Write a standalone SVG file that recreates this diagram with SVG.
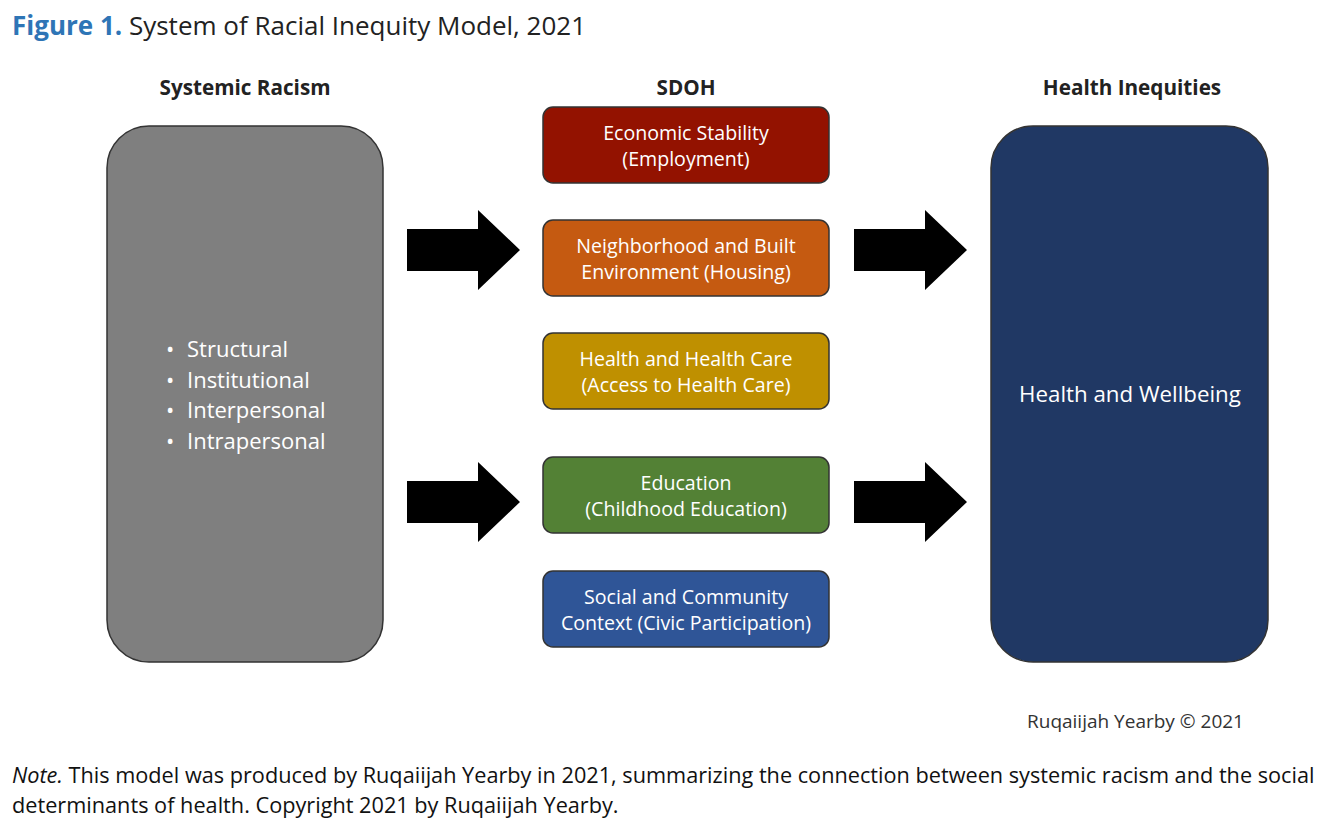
<svg xmlns="http://www.w3.org/2000/svg" width="1333" height="832" viewBox="0 0 1333 832">
<style>
text{font-family:"Open Sans",Lato,"Liberation Sans",sans-serif}
.h{font-size:20.7px;font-weight:bold;fill:#222;text-anchor:middle}
.s{font-size:19.6px;fill:#fff;text-anchor:middle}
.b{stroke:#333;stroke-width:1.5}
.arr{fill:#000}
</style>
<rect width="1333" height="832" fill="#fff"/>
<text x="12" y="35" font-size="26" fill="#222"><tspan fill="#2e75b6" font-weight="bold">Figure 1.</tspan> System of Racial Inequity Model, 2021</text>
<text class="h" x="245" y="95">Systemic Racism</text>
<text class="h" x="686" y="95">SDOH</text>
<text class="h" x="1132" y="95">Health Inequities</text>
<g id="racism">
<rect class="b" x="107" y="126" width="276" height="536" rx="42" fill="#7f7f7f"/>
<g font-size="22" fill="#fff">
<text x="166" y="357">•</text><text x="187" y="357">Structural</text>
<text x="166" y="388">•</text><text x="187" y="388">Institutional</text>
<text x="166" y="418">•</text><text x="187" y="418">Interpersonal</text>
<text x="166" y="449">•</text><text x="187" y="449">Intrapersonal</text>
</g>
</g>
<g id="econ"><rect class="b" x="543" y="107" width="286" height="76" rx="10" fill="#931200"/><text class="s" x="686" y="140">Economic Stability</text><text class="s" x="686" y="166">(Employment)</text></g>
<g id="neigh"><rect class="b" x="543" y="220" width="286" height="76" rx="10" fill="#c55a11"/><text class="s" x="686" y="253">Neighborhood and Built</text><text class="s" x="686" y="279">Environment (Housing)</text></g>
<g id="care"><rect class="b" x="543" y="333" width="286" height="76" rx="10" fill="#bf9000"/><text class="s" x="686" y="366">Health and Health Care</text><text class="s" x="686" y="392">(Access to Health Care)</text></g>
<g id="edu"><rect class="b" x="543" y="457" width="286" height="76" rx="10" fill="#538135"/><text class="s" x="686" y="490">Education</text><text class="s" x="686" y="516">(Childhood Education)</text></g>
<g id="social"><rect class="b" x="543" y="571" width="286" height="76" rx="10" fill="#2f5597"/><text class="s" x="686" y="604">Social and Community</text><text class="s" x="686" y="630">Context (Civic Participation)</text></g>
<g id="health">
<rect class="b" x="991" y="126" width="277" height="536" rx="42" fill="#203864"/>
<text x="1130" y="402" font-size="22.3" fill="#fff" text-anchor="middle">Health and Wellbeing</text>
</g>
<g id="connectors">
<path class="arr" d="M407 229H478V210L520 250L478 290V271H407Z"/>
<path class="arr" d="M407 481H478V462L520 502L478 542V523H407Z"/>
<path class="arr" d="M854 229H925V210L967 250L925 290V271H854Z"/>
<path class="arr" d="M854 481H925V462L967 502L925 542V523H854Z"/>
</g>
<text x="1244" y="728" font-size="19" fill="#333" text-anchor="end">Ruqaiijah Yearby © 2021</text>
<text font-size="21.7" fill="#111"><tspan x="12" y="783"><tspan font-style="italic">Note.</tspan> This model was produced by Ruqaiijah Yearby in 2021, summarizing the connection between systemic racism and the social</tspan><tspan x="12" y="813">determinants of health. Copyright 2021 by Ruqaiijah Yearby.</tspan></text>
</svg>
